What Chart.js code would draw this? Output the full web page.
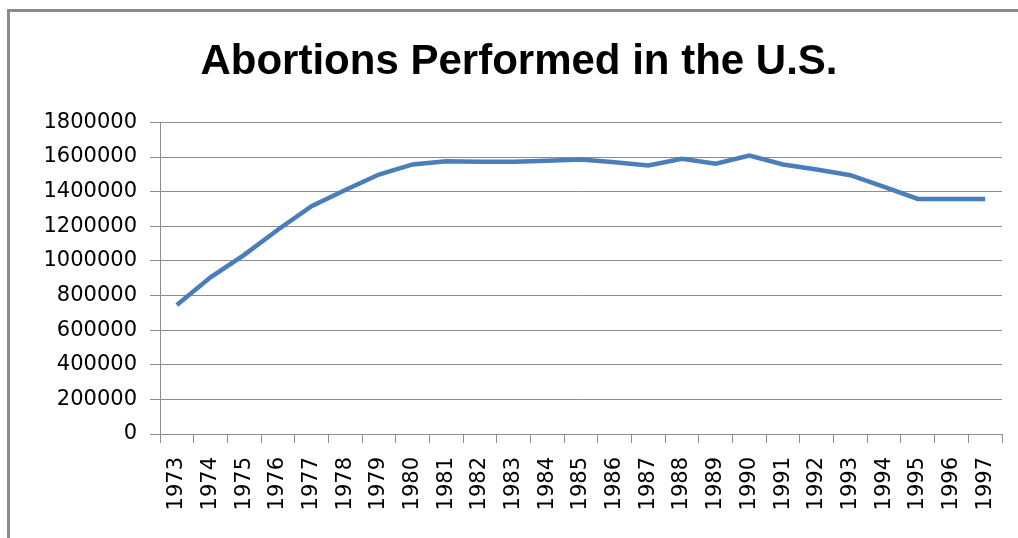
<!DOCTYPE html>
<html>
<head>
<meta charset="utf-8">
<script src="https://cdn.jsdelivr.net/npm/chart.js@4/dist/chart.umd.min.js"></script>
<style>
  html, body { margin: 0; padding: 0; background: #fff; }
  #wrap { position: relative; width: 1018px; height: 538px; overflow: hidden; }
  #frame {
    position: absolute; left: 7px; top: 9px; width: 1030px; height: 560px;
    border-top: 3px solid #8a8a8a; border-left: 3px solid #8a8a8a;
  }
  canvas { position: absolute; left: 0; top: 0; }
</style>
</head>
<body>
<div id="wrap">
  <div id="frame"></div>
  <canvas id="chart" width="1018" height="538"></canvas>
</div>
<script>
const years = ['1973', '1974', '1975', '1976', '1977', '1978', '1979', '1980', '1981', '1982',
  '1983', '1984', '1985', '1986', '1987', '1988', '1989', '1990', '1991', '1992',
  '1993', '1994', '1995', '1996', '1997'];
const abortions = [745000, 905000, 1035000, 1180000, 1316000, 1410000, 1499000, 1557000, 1576000, 1572000,
  1572000, 1578000, 1586000, 1570000, 1551000, 1590000, 1561000, 1609000, 1557000, 1528000,
  1495000, 1428000, 1358000, 1358000, 1358000];
const yTicks = { min: 0, max: 1800000, step: 200000 };

const gridGrey = '#8c8c8c';

new Chart(document.getElementById('chart').getContext('2d'), {
  type: 'line',
  data: {
    labels: years,
    datasets: [{
      label: 'Abortions',
      data: abortions,
      borderColor: '#4a7ebb',
      borderWidth: 4.5,
      pointRadius: 0,
      fill: false,
      tension: 0
    }]
  },
  options: {
    responsive: false,
    animation: false,
    layout: { padding: { left: 36, right: 16, top: 0, bottom: 0 } },
    plugins: {
      legend: { display: false },
      tooltip: { enabled: false },
      title: {
        display: true,
        text: 'Abortions Performed in the U.S.',
        color: '#000',
        font: { family: '"Liberation Sans", Arial, sans-serif', size: 42, weight: 'bold' },
        padding: { top: 37, bottom: 35 }
      }
    },
    scales: {
      x: {
        offset: true,
        grid: { offset: true, drawOnChartArea: false, drawTicks: true, tickLength: 9, color: gridGrey },
        border: { color: gridGrey, width: 1 },
        ticks: {
          autoSkip: false, minRotation: 90, maxRotation: 90, padding: 14, color: '#000',
          font: { family: '"DejaVu Sans", sans-serif', size: 21 }
        },
        afterFit: s => { s.height = 104; s.paddingLeft = 0; s.paddingRight = 0; }
      },
      y: {
        min: yTicks.min,
        max: yTicks.max,
        grid: { color: gridGrey, tickLength: 10 },
        border: { color: gridGrey, width: 1 },
        ticks: {
          stepSize: yTicks.step, padding: 13, color: '#000',
          font: { family: '"DejaVu Sans", sans-serif', size: 21 },
          callback: v => String(v)
        },
        afterFit: s => { s.width = 124; }
      }
    }
  }
});
</script>
</body>
</html>
